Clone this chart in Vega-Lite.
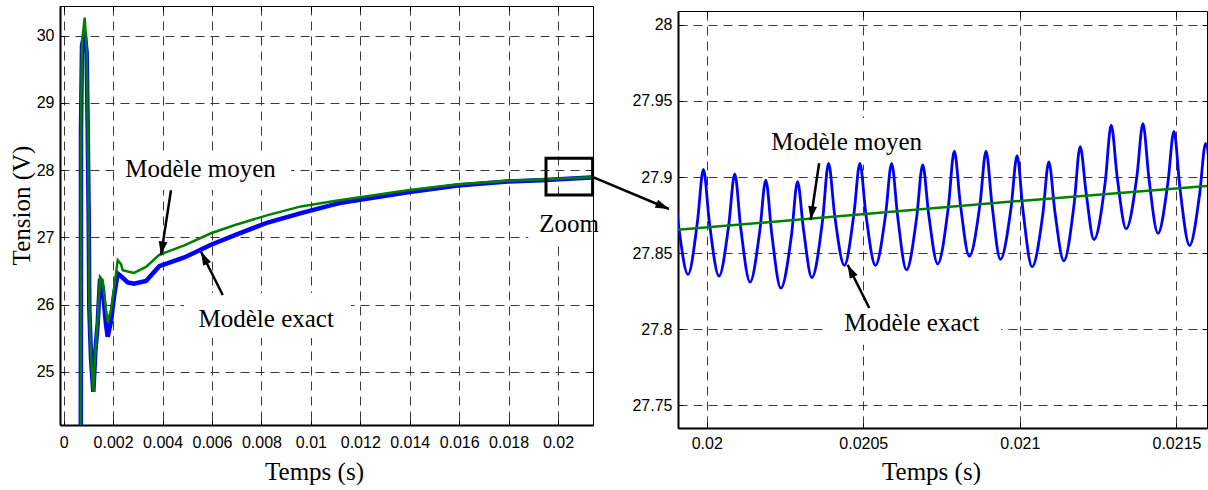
{
  "$schema": "https://vega.github.io/schema/vega-lite/v6.json",
  "background": "white",
  "padding": {"left": 9, "top": 5, "right": 0, "bottom": 0},
  "config": {
    "view": {"stroke": "#000", "strokeWidth": 1},
    "axis": {
      "labelFont": "Liberation Sans", "labelFontSize": 16, "labelColor": "#000",
      "titleFont": "Liberation Serif", "titleFontSize": 25, "titleFontWeight": "normal", "titleColor": "#000",
      "gridColor": "#3a3a3a", "gridDash": [9, 6], "gridWidth": 1, "gridOpacity": 1,
      "domainColor": "#000", "domainWidth": 2, "tickColor": "#000", "tickSize": -5, "tickWidth": 1,
      "labelFlush": false, "labelOverlap": false, "labelBound": false
    },
    "text": {"font": "Liberation Serif", "fontSize": 25, "color": "#000"}
  },
  "datasets": {
    "leftExact": [
      {"t": 0.00069, "v": 22}, {"t": 0.0007, "v": 28.6}, {"t": 0.00074, "v": 29.85}, {"t": 0.00085, "v": 30.05},
      {"t": 0.000927, "v": 29.75}, {"t": 0.000968, "v": 28.7}, {"t": 0.001012, "v": 27.26}, {"t": 0.001036, "v": 25.95},
      {"t": 0.001105, "v": 25.2}, {"t": 0.001198, "v": 24.7}, {"t": 0.001279, "v": 25.3}, {"t": 0.001376, "v": 25.72},
      {"t": 0.001469, "v": 26.38}, {"t": 0.001578, "v": 26.25}, {"t": 0.001711, "v": 25.7}, {"t": 0.00178, "v": 25.52},
      {"t": 0.001914, "v": 25.75}, {"t": 0.002047, "v": 26.15}, {"t": 0.002185, "v": 26.46}, {"t": 0.00232, "v": 26.42},
      {"t": 0.00259, "v": 26.33}, {"t": 0.002844, "v": 26.31}, {"t": 0.00333, "v": 26.35}, {"t": 0.003868, "v": 26.57},
      {"t": 0.00488, "v": 26.7}, {"t": 0.00596, "v": 26.89}, {"t": 0.006903, "v": 27.03}, {"t": 0.008254, "v": 27.22},
      {"t": 0.009601, "v": 27.36}, {"t": 0.010949, "v": 27.49}, {"t": 0.01122, "v": 27.515}, {"t": 0.013919, "v": 27.67},
      {"t": 0.015942, "v": 27.77}, {"t": 0.017965, "v": 27.83}, {"t": 0.019312, "v": 27.85}, {"t": 0.021335, "v": 27.89},
      {"t": 0.0215, "v": 27.89}
    ],
    "leftMoyen": [
      {"t": 0.00069, "v": 22}, {"t": 0.0007, "v": 28.62}, {"t": 0.00074, "v": 29.9}, {"t": 0.00085, "v": 30.27},
      {"t": 0.000927, "v": 29.79}, {"t": 0.000968, "v": 28.72}, {"t": 0.001012, "v": 27.26}, {"t": 0.001036, "v": 25.97},
      {"t": 0.001105, "v": 25.22}, {"t": 0.001198, "v": 24.7}, {"t": 0.001279, "v": 25.32}, {"t": 0.001376, "v": 25.77},
      {"t": 0.001469, "v": 26.41}, {"t": 0.001578, "v": 26.36}, {"t": 0.001711, "v": 25.92}, {"t": 0.00178, "v": 25.74},
      {"t": 0.001914, "v": 25.92}, {"t": 0.002047, "v": 26.27}, {"t": 0.002185, "v": 26.66}, {"t": 0.00232, "v": 26.6},
      {"t": 0.002387, "v": 26.51}, {"t": 0.00259, "v": 26.49}, {"t": 0.002844, "v": 26.47}, {"t": 0.00333, "v": 26.56},
      {"t": 0.003868, "v": 26.74}, {"t": 0.00488, "v": 26.88}, {"t": 0.00596, "v": 27.06}, {"t": 0.006903, "v": 27.18},
      {"t": 0.008254, "v": 27.33}, {"t": 0.009601, "v": 27.46}, {"t": 0.010949, "v": 27.54}, {"t": 0.013919, "v": 27.7},
      {"t": 0.015942, "v": 27.79}, {"t": 0.017965, "v": 27.84}, {"t": 0.019312, "v": 27.86}, {"t": 0.021335, "v": 27.895},
      {"t": 0.0215, "v": 27.897}
    ],
    "leftNotes": [
      {"label": "Modèle moyen", "t": 0.005535, "v": 27.902},
      {"label": "Modèle exact", "t": 0.008193, "v": 25.661},
      {"label": "Zoom", "t": 0.020446, "v": 27.074}
    ],
    "leftNoteBoxes": [
      {"t": 0.002039, "t2": 0.009197, "v": 28.27, "v2": 27.704},
      {"t": 0.004868, "t2": 0.011624, "v": 26.171, "v2": 25.501},
      {"t": 0.018794, "t2": 0.021416, "v": 27.555, "v2": 26.945}
    ],
    "leftArrows": [
      {"name": "moyen", "t": 0.004341, "v": 27.7, "t2": 0.003937, "v2": 26.735},
      {"name": "exact", "t": 0.006433, "v": 26.141, "t2": 0.005555, "v2": 26.786},
      {"name": "zoom", "t": 0.021416, "v": 27.897, "t2": 0.024491, "v2": 27.421}
    ],
    "zoomBox": [
      {"t": 0.019514, "t2": 0.0214, "v": 28.176, "v2": 27.63}
    ],
    "rightExact": [
      {"t": 0.0198894, "v": 27.905}, {"t": 0.0199086, "v": 27.8705}, {"t": 0.0199402, "v": 27.836}, {"t": 0.0199703, "v": 27.8705},
      {"t": 0.0199895, "v": 27.905}, {"t": 0.0200086, "v": 27.87}, {"t": 0.0200393, "v": 27.835}, {"t": 0.0200703, "v": 27.8685},
      {"t": 0.0200895, "v": 27.902}, {"t": 0.0201087, "v": 27.8665}, {"t": 0.0201384, "v": 27.831}, {"t": 0.0201694, "v": 27.8645},
      {"t": 0.0201886, "v": 27.898}, {"t": 0.0202078, "v": 27.8625}, {"t": 0.0202366, "v": 27.827}, {"t": 0.0202708, "v": 27.862},
      {"t": 0.02029, "v": 27.897}, {"t": 0.0203091, "v": 27.8655}, {"t": 0.0203357, "v": 27.834}, {"t": 0.0203699, "v": 27.8715},
      {"t": 0.0203891, "v": 27.909}, {"t": 0.0204082, "v": 27.8755}, {"t": 0.0204396, "v": 27.842}, {"t": 0.0204699, "v": 27.8755},
      {"t": 0.0204891, "v": 27.909}, {"t": 0.0205083, "v": 27.8755}, {"t": 0.0205387, "v": 27.842}, {"t": 0.0205713, "v": 27.8755},
      {"t": 0.0205905, "v": 27.909}, {"t": 0.0206097, "v": 27.874}, {"t": 0.0206378, "v": 27.839}, {"t": 0.0206704, "v": 27.8735},
      {"t": 0.0206896, "v": 27.908}, {"t": 0.0207088, "v": 27.8755}, {"t": 0.0207375, "v": 27.843}, {"t": 0.0207714, "v": 27.88},
      {"t": 0.0207906, "v": 27.917}, {"t": 0.0208098, "v": 27.8825}, {"t": 0.0208386, "v": 27.848}, {"t": 0.0208728, "v": 27.8825},
      {"t": 0.0208919, "v": 27.917}, {"t": 0.0209111, "v": 27.8815}, {"t": 0.0209377, "v": 27.846}, {"t": 0.0209719, "v": 27.88},
      {"t": 0.020991, "v": 27.914}, {"t": 0.0210102, "v": 27.8775}, {"t": 0.021039, "v": 27.841}, {"t": 0.0210732, "v": 27.8755},
      {"t": 0.0210924, "v": 27.91}, {"t": 0.0211116, "v": 27.8775}, {"t": 0.0211403, "v": 27.845}, {"t": 0.0211733, "v": 27.8825},
      {"t": 0.0211925, "v": 27.92}, {"t": 0.0212116, "v": 27.8895}, {"t": 0.0212363, "v": 27.859}, {"t": 0.0212724, "v": 27.8965},
      {"t": 0.0212916, "v": 27.934}, {"t": 0.0213107, "v": 27.9}, {"t": 0.0213395, "v": 27.866}, {"t": 0.0213737, "v": 27.9005},
      {"t": 0.0213929, "v": 27.935}, {"t": 0.0214121, "v": 27.899}, {"t": 0.0214409, "v": 27.863}, {"t": 0.0214728, "v": 27.8965},
      {"t": 0.021492, "v": 27.93}, {"t": 0.0215112, "v": 27.8925}, {"t": 0.0215419, "v": 27.855}, {"t": 0.0215738, "v": 27.8885},
      {"t": 0.021593, "v": 27.922}, {"t": 0.0216122, "v": 27.89}
    ],
    "rightMoyen": [
      {"t": 0.019885, "v": 27.8649}, {"t": 0.021, "v": 27.8843}, {"t": 0.02162, "v": 27.8944}
    ],
    "rightNotes": [
      {"label": "Modèle moyen", "t": 0.020447, "v": 27.9178},
      {"label": "Modèle exact", "t": 0.020655, "v": 27.7986}
    ],
    "rightNoteBoxes": [
      {"t": 0.0201407, "t2": 0.0207481, "v": 27.9388, "v2": 27.908},
      {"t": 0.020374, "t2": 0.0209399, "v": 27.8194, "v2": 27.7899}
    ],
    "rightArrows": [
      {"name": "moyen", "t": 0.020359, "v": 27.909, "t2": 0.020332, "v2": 27.8719},
      {"name": "exact", "t": 0.020519, "v": 27.814, "t2": 0.02045, "v2": 27.8424}
    ]
  },
  "spacing": 85,
  "bounds": "flush",
  "hconcat": [
    {
      "width": 533,
      "height": 419,
      "resolve": {"axis": {"x": "independent", "y": "independent"}},
      "layer": [
        {
          "data": {"name": "leftNoteBoxes"},
          "mark": {"type": "rect", "fill": "#fff", "strokeWidth": 0},
          "encoding": {
            "x": {"field": "t", "type": "quantitative", "axis": null,
              "scale": {"domain": [-0.00015, 0.021416], "nice": false, "zero": false}},
            "x2": {"field": "t2"},
            "y": {"field": "v", "type": "quantitative", "axis": null,
              "scale": {"domain": [24.207, 30.442], "nice": false, "zero": false}},
            "y2": {"field": "v2"}
          }
        },
        {
          "data": {"name": "leftExact"},
          "mark": {"type": "line", "color": "#0000ff", "strokeWidth": 4.5, "clip": true},
          "encoding": {
            "x": {"field": "t", "type": "quantitative",
              "scale": {"domain": [-0.00015, 0.021416], "nice": false, "zero": false},
              "axis": {"values": [0, 0.002, 0.004, 0.006, 0.008, 0.01, 0.012, 0.014, 0.016, 0.018, 0.02],
                "labelExpr": "'' + datum.value", "grid": true, "title": "Temps (s)",
                "titleX": 254, "titleY": 54.5, "titleBaseline": "alphabetic", "labelPadding": 14}},
            "y": {"field": "v", "type": "quantitative",
              "scale": {"domain": [24.207, 30.442], "nice": false, "zero": false},
              "axis": {"values": [25, 26, 27, 28, 29, 30], "labelExpr": "'' + datum.value", "grid": true,
                "title": "Tension (V)", "titleX": -30.4, "titleY": 199, "titleBaseline": "alphabetic", "labelPadding": 11}}
          }
        },
        {
          "data": {"name": "leftMoyen"},
          "mark": {"type": "line", "color": "#008000", "strokeWidth": 2.5, "clip": true},
          "encoding": {
            "x": {"field": "t", "type": "quantitative",
              "scale": {"domain": [-0.00015, 0.021416], "nice": false, "zero": false},
              "axis": {"orient": "top", "values": [0, 0.002, 0.004, 0.006, 0.008, 0.01, 0.012, 0.014, 0.016, 0.018, 0.02],
                "labels": false, "grid": false, "domain": false, "title": null}},
            "y": {"field": "v", "type": "quantitative",
              "scale": {"domain": [24.207, 30.442], "nice": false, "zero": false},
              "axis": {"orient": "right", "values": [25, 26, 27, 28, 29, 30], "labels": false, "grid": false, "domain": false, "title": null}}
          }
        },
        {
          "data": {"name": "zoomBox"},
          "mark": {"type": "rect", "fillOpacity": 0, "stroke": "#000", "strokeWidth": 3},
          "encoding": {
            "x": {"field": "t", "type": "quantitative", "axis": null},
            "x2": {"field": "t2"},
            "y": {"field": "v", "type": "quantitative", "axis": null},
            "y2": {"field": "v2"}
          }
        },
        {
          "data": {"name": "leftNotes"},
          "mark": {"type": "text", "align": "center", "baseline": "alphabetic", "font": "Liberation Serif", "fontSize": 25, "color": "#000"},
          "encoding": {
            "x": {"field": "t", "type": "quantitative", "axis": null},
            "y": {"field": "v", "type": "quantitative", "axis": null},
            "text": {"field": "label"}
          }
        },
        {
          "data": {"name": "leftArrows"},
          "mark": {"type": "rule", "color": "#000", "strokeWidth": 2.5},
          "encoding": {
            "x": {"field": "t", "type": "quantitative", "axis": null},
            "y": {"field": "v", "type": "quantitative", "axis": null},
            "x2": {"field": "t2"},
            "y2": {"field": "v2"}
          }
        },
        {
          "data": {"name": "leftArrows"},
          "transform": [{"filter": "datum.name == 'moyen'"}],
          "mark": {"type": "point", "shape": "M0,0L-0.55,-1.7L0.55,-1.7Z", "size": 256, "angle": 8.7, "filled": true, "color": "#000", "opacity": 1},
          "encoding": {
            "x": {"field": "t2", "type": "quantitative", "axis": null},
            "y": {"field": "v2", "type": "quantitative", "axis": null}
          }
        },
        {
          "data": {"name": "leftArrows"},
          "transform": [{"filter": "datum.name == 'exact'"}],
          "mark": {"type": "point", "shape": "M0,0L-0.55,-1.7L0.55,-1.7Z", "size": 256, "angle": 153.4, "filled": true, "color": "#000", "opacity": 1},
          "encoding": {
            "x": {"field": "t2", "type": "quantitative", "axis": null},
            "y": {"field": "v2", "type": "quantitative", "axis": null}
          }
        },
        {
          "data": {"name": "leftArrows"},
          "transform": [{"filter": "datum.name == 'zoom'"}],
          "mark": {"type": "point", "shape": "M0,0L-0.55,-1.7L0.55,-1.7Z", "size": 256, "angle": 292.8, "filled": true, "color": "#000", "opacity": 1},
          "encoding": {
            "x": {"field": "t2", "type": "quantitative", "axis": null},
            "y": {"field": "v2", "type": "quantitative", "axis": null}
          }
        }
      ]
    },
    {
      "spacing": 0,
      "bounds": "flush",
      "vconcat": [
        {
          "width": 529,
          "height": 5,
          "view": {"stroke": null},
          "data": {"values": [{}]},
          "mark": {"type": "point", "opacity": 0}
        },
        {
          "width": 529,
          "height": 417,
          "resolve": {"axis": {"x": "independent", "y": "independent"}},
          "layer": [
            {
              "data": {"name": "rightNoteBoxes"},
              "mark": {"type": "rect", "fill": "#fff", "strokeWidth": 0},
              "encoding": {
                "x": {"field": "t", "type": "quantitative", "axis": null,
                  "scale": {"domain": [0.0199083, 0.0215975], "nice": false, "zero": false}},
                "x2": {"field": "t2"},
                "y": {"field": "v", "type": "quantitative", "axis": null,
                  "scale": {"domain": [27.7352, 28.009], "nice": false, "zero": false}},
                "y2": {"field": "v2"}
              }
            },
            {
              "data": {"name": "rightExact"},
              "mark": {"type": "line", "color": "#0000ff", "strokeWidth": 2.8, "interpolate": "monotone", "clip": true},
              "encoding": {
                "x": {"field": "t", "type": "quantitative",
                  "scale": {"domain": [0.0199083, 0.0215975], "nice": false, "zero": false},
                  "axis": {"values": [0.02, 0.0205, 0.021, 0.0215], "labelExpr": "'' + datum.value", "grid": true,
                    "title": "Temps (s)", "titleX": 253, "titleY": 51, "titleBaseline": "alphabetic", "labelPadding": 12}},
                "y": {"field": "v", "type": "quantitative",
                  "scale": {"domain": [27.7352, 28.009], "nice": false, "zero": false},
                  "axis": {"values": [27.75, 27.8, 27.85, 27.9, 27.95, 28], "labelExpr": "'' + datum.value", "grid": true,
                    "title": null, "labelPadding": 11}}
              }
            },
            {
              "data": {"name": "rightMoyen"},
              "mark": {"type": "line", "color": "#008000", "strokeWidth": 2.5, "clip": true},
              "encoding": {
                "x": {"field": "t", "type": "quantitative",
                  "scale": {"domain": [0.0199083, 0.0215975], "nice": false, "zero": false},
                  "axis": {"orient": "top", "values": [0.02, 0.0205, 0.021, 0.0215], "labels": false, "grid": false, "domain": false, "title": null}},
                "y": {"field": "v", "type": "quantitative",
                  "scale": {"domain": [27.7352, 28.009], "nice": false, "zero": false},
                  "axis": {"orient": "right", "values": [27.75, 27.8, 27.85, 27.9, 27.95, 28], "labels": false, "grid": false, "domain": false, "title": null}}
              }
            },
            {
              "data": {"name": "rightNotes"},
              "mark": {"type": "text", "align": "center", "baseline": "alphabetic", "font": "Liberation Serif", "fontSize": 25, "color": "#000"},
              "encoding": {
                "x": {"field": "t", "type": "quantitative", "axis": null},
                "y": {"field": "v", "type": "quantitative", "axis": null},
                "text": {"field": "label"}
              }
            },
            {
              "data": {"name": "rightArrows"},
              "mark": {"type": "rule", "color": "#000", "strokeWidth": 2.5},
              "encoding": {
                "x": {"field": "t", "type": "quantitative", "axis": null},
                "y": {"field": "v", "type": "quantitative", "axis": null},
                "x2": {"field": "t2"},
                "y2": {"field": "v2"}
              }
            },
            {
              "data": {"name": "rightArrows"},
              "transform": [{"filter": "datum.name == 'moyen'"}],
              "mark": {"type": "point", "shape": "M0,0L-0.55,-1.7L0.55,-1.7Z", "size": 256, "angle": 8.3, "filled": true, "color": "#000", "opacity": 1},
              "encoding": {
                "x": {"field": "t2", "type": "quantitative", "axis": null},
                "y": {"field": "v2", "type": "quantitative", "axis": null}
              }
            },
            {
              "data": {"name": "rightArrows"},
              "transform": [{"filter": "datum.name == 'exact'"}],
              "mark": {"type": "point", "shape": "M0,0L-0.55,-1.7L0.55,-1.7Z", "size": 256, "angle": 153.5, "filled": true, "color": "#000", "opacity": 1},
              "encoding": {
                "x": {"field": "t2", "type": "quantitative", "axis": null},
                "y": {"field": "v2", "type": "quantitative", "axis": null}
              }
            }
          ]
        }
      ]
    }
  ]
}
